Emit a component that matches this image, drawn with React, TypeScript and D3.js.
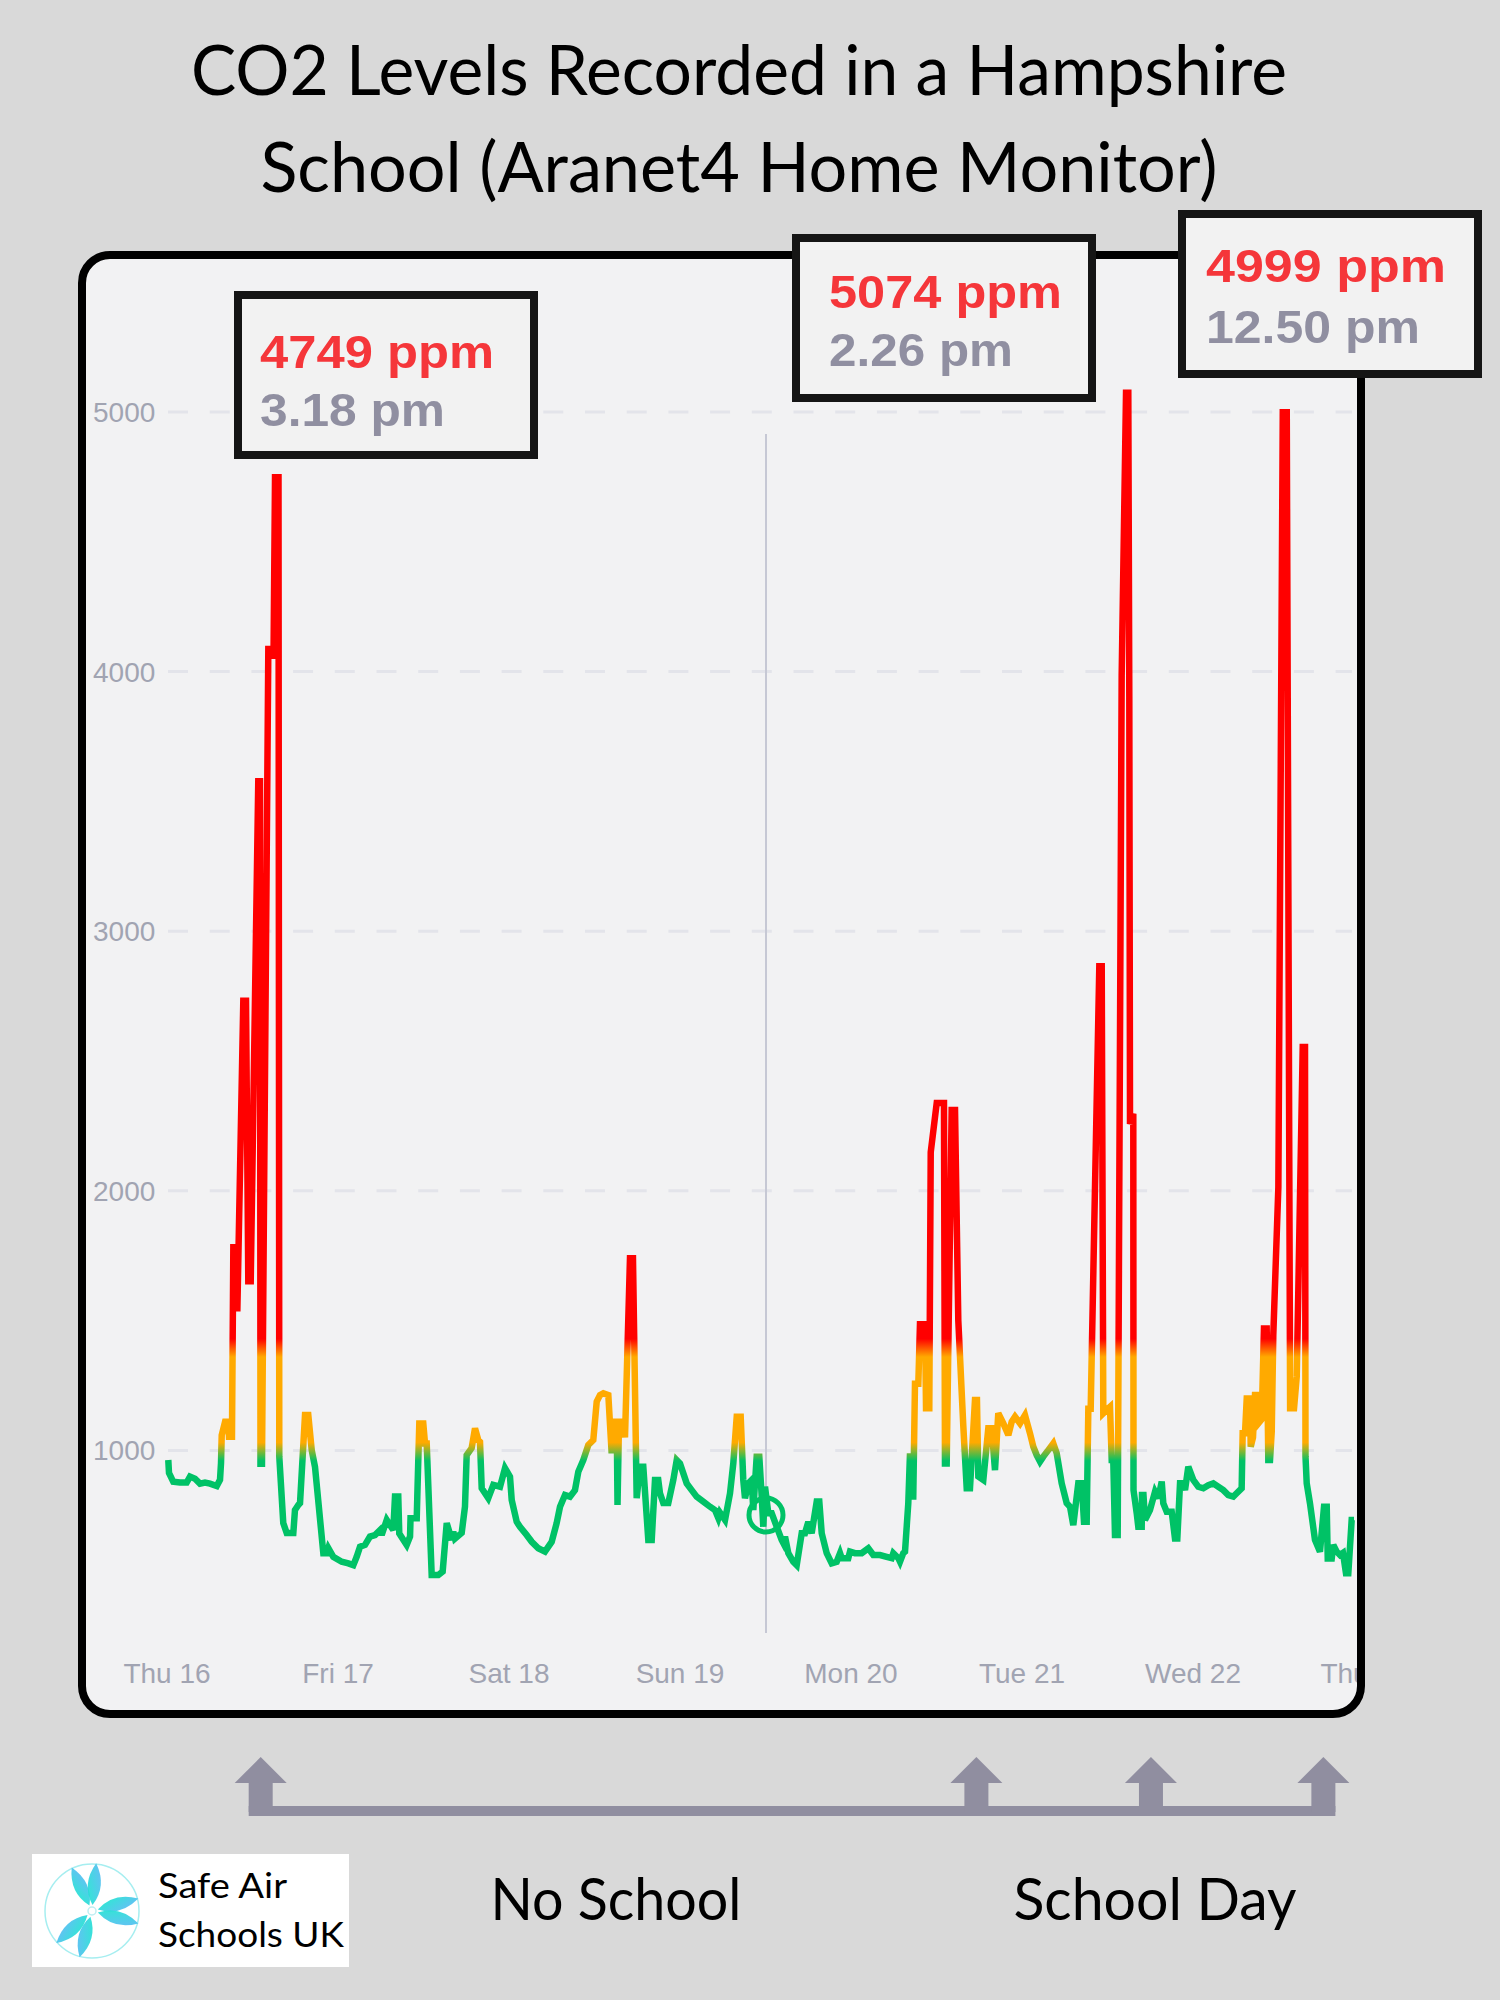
import * as d3 from "d3";

// Thu 16 at midnight, hours counted from here
const START = new Date(2023, 10, 16);
const DAYS = 7;

const HOURS = [
  0.18, 0.28, 0.88, 1.82, 2.76, 3.23, 3.93, 4.63, 5.33, 6.04,
  6.98, 7.44, 7.58, 7.68, 8.15, 8.6, 8.7, 9.12, 9.31, 9.78,
  9.87, 10.71, 11.09, 11.41, 11.75, 12.81, 13.05, 13.12, 13.33, 14.22,
  14.84, 14.95, 15.16, 15.65, 15.76, 16.32, 16.8, 17.73, 17.96, 18.43,
  18.67, 19.37, 19.83, 20.31, 20.77, 21.94, 22.41, 22.64, 23.34, 24.52,
  25.45, 26.15, 26.62, 27.09, 27.79, 28.49, 29.19, 29.89, 30.13, 30.84,
  31.76, 32.0, 32.46, 32.6, 33.64, 34.11, 34.18, 35.05, 35.13, 35.41,
  35.97, 36.21, 36.45, 37.15, 38.08, 38.69, 39.26, 39.96, 40.18, 40.42,
  41.36, 41.82, 42.06, 42.76, 43.23, 43.69, 43.93, 44.17, 45.09, 45.8,
  46.74, 47.44, 48.14, 48.38, 49.08, 49.54, 50.48, 51.19, 52.11, 53.05,
  53.99, 54.69, 55.16, 55.86, 56.56, 57.26, 57.73, 58.43, 59.13, 59.83,
  60.31, 60.77, 61.24, 61.94, 62.41, 62.64, 63.12, 63.23, 63.44, 64.04,
  64.28, 64.98, 65.4, 65.92, 66.39, 66.85, 67.55, 68.03, 68.49, 68.95,
  69.19, 69.66, 70.36, 71.06, 71.54, 72.0, 72.94, 73.64, 74.34, 75.27,
  76.21, 76.91, 77.38, 77.61, 78.32, 79.02, 79.48, 79.96, 80.52, 80.88,
  81.12, 81.59, 82.06, 82.29, 82.76, 83.13, 83.47, 83.69, 83.93, 84.39,
  84.87, 85.57, 86.27, 86.5, 86.74, 87.2, 87.9, 88.38, 89.08, 89.54,
  90.01, 90.48, 91.19, 91.55, 91.89, 92.59, 93.29, 93.99, 94.46, 94.69,
  95.62, 95.86, 96.56, 97.5, 98.43, 99.13, 100.07, 101.01, 101.71, 101.94,
  102.64, 102.88, 103.34, 103.58, 104.04, 104.28, 104.52, 104.74, 104.98, 105.45,
  105.68, 106.39, 106.53, 106.99, 107.19, 108.03, 109.05, 109.19, 109.43, 110.13,
  110.6, 111.06, 111.76, 112.24, 112.7, 113.4, 113.68, 113.87, 114.57, 115.27,
  115.75, 116.21, 116.67, 117.38, 118.08, 118.55, 119.02, 119.72, 120.42, 121.12,
  121.59, 122.06, 122.53, 122.99, 123.69, 124.39, 124.87, 125.57, 126.27, 126.74,
  127.2, 127.9, 128.38, 128.7, 129.08, 129.31, 129.64, 130.85, 131.19, 131.41,
  132.11, 132.35, 132.59, 132.81, 133.05, 133.43, 133.99, 134.6, 134.92, 135.06,
  135.16, 135.62, 135.65, 136.1, 136.32, 136.8, 136.84, 137.05, 137.26, 137.96,
  138.67, 139.13, 139.61, 139.83, 140.31, 141.01, 141.47, 141.8, 142.18, 142.64,
  142.88, 143.34, 144.04, 144.74, 145.45, 146.15, 146.85, 147.55, 148.25, 148.95,
  149.66, 150.13, 150.83, 150.97, 151.3, 151.54, 152.0, 152.1, 152.42, 152.7,
  152.94, 153.16, 153.64, 153.96, 154.34, 154.57, 154.81, 155.05, 155.27, 155.98,
  156.6, 157.16, 157.63, 158.18, 158.56, 159.4, 159.72, 159.79, 159.96, 160.42,
  161.12, 161.82, 162.39, 162.77, 162.91, 163.47, 163.69, 164.17, 164.63, 165.05,
  165.47, 165.8, 166.27, 166.6,
];

const PPM = [
  963, 913, 879, 876, 876, 899, 891, 872, 876, 872,
  863, 887, 951, 1059, 1110, 1110, 1053, 1053, 1783, 1783,
  1535, 2732, 2732, 1652, 1652, 3578, 3578, 949, 949, 4087,
  4087, 4050, 4749, 4749, 976, 720, 682, 682, 770, 790,
  797, 1136, 1136, 1001, 937, 604, 604, 624, 590, 571,
  565, 558, 590, 629, 636, 668, 674, 693, 674, 732,
  693, 822, 822, 680, 636, 668, 739, 739, 822, 1104,
  1104, 1027, 1027, 520, 520, 533, 720, 655, 687, 660,
  682, 783, 982, 1009, 1085, 1040, 1033, 854, 816, 867,
  860, 932, 899, 809, 725, 706, 674, 648, 623, 610,
  648, 720, 783, 828, 822, 847, 918, 963, 1021, 1040,
  1188, 1213, 1220, 1213, 989, 1110, 1110, 790, 1110, 1110,
  1050, 1740, 1740, 816, 937, 937, 655, 655, 886, 886,
  835, 797, 797, 886, 963, 950, 873, 847, 822, 803,
  783, 770, 739, 760, 732, 835, 950, 1130, 1130, 886,
  816, 873, 886, 770, 976, 976, 822, 706, 860, 758,
  758, 706, 655, 643, 668, 604, 571, 558, 681, 681,
  725, 681, 803, 803, 681, 604, 565, 571, 604, 585,
  585, 610, 604, 604, 623, 597, 597, 590, 585, 604,
  585, 571, 604, 610, 796, 989, 822, 822, 1257, 1257,
  1486, 1486, 1162, 1162, 2149, 2338, 2338, 950, 950, 2311,
  2311, 1500, 1095, 854, 854, 1194, 1194, 899, 886, 1085,
  1085, 924, 1143, 1104, 1059, 1110, 1130, 1104, 1136, 1066,
  1014, 982, 957, 976, 1001, 1027, 989, 873, 797, 783,
  712, 873, 873, 725, 725, 1160, 1160, 2865, 2865, 1143,
  1162, 1168, 963, 963, 674, 674, 3986, 5074, 5074, 3905,
  2257, 2297, 847, 758, 706, 706, 828, 828, 732, 770,
  841, 816, 880, 796, 764, 764, 661, 661, 873, 873,
  847, 937, 886, 860, 854, 866, 873, 860, 847, 828,
  822, 835, 854, 1066, 1066, 1200, 1200, 1014, 1050, 1213,
  1213, 1104, 1120, 1470, 1470, 963, 963, 1072, 1446, 2014,
  4999, 4999, 1162, 1162, 1284, 2554, 2554, 976, 873, 796,
  655, 610, 783, 783, 584, 584, 636, 610, 597, 605,
  527, 527, 732, 732,
];

const Y_TICKS = [1000, 2000, 3000, 4000, 5000];
// green below the first, orange up to the second, red above
const THRESHOLDS = [1000, 1400];

const PEAK_PPM = ["4749 ppm", "5074 ppm", "4999 ppm"];
const PEAK_TIME = ["3.18 pm", "2.26 pm", "12.50 pm"];

// hovered reading on Sun 19
const CURSOR_HOUR = 84.07;
const CURSOR_PPM = 751;

// arrows under the chart, in hours from Thu 16
const ARROW_HOURS = [13.15, 113.6, 138.1, 162.3];

const W = 1500;
const H = 2000;
const GREY = "#a1a4b2";
const ARROW = "#908ea0";
const ROUND = "Lato, 'Noto Sans', sans-serif";
const SANS = "'Liberation Sans', Arial, sans-serif";

const BOXES = [
  { x: 234, y: 291, tx: 26, b1: 77, b2: 135, l1: 234, l2: 185 },
  { x: 792, y: 234, tx: 37, b1: 74, b2: 132, l1: 233, l2: 184 },
  { x: 1178, y: 210, tx: 28, b1: 72, b2: 133, l1: 240, l2: 214 },
];

const LEAVES = [-25, 5, 75, 105, 195, 228];

const hourToDate = (h: number) => new Date(START.getTime() + h * 3600e3);

export default function App() {
  const x = d3
    .scaleTime()
    .domain([START, d3.timeDay.offset(START, DAYS)])
    .range([167, 167 + DAYS * 171]);
  const y = d3.scaleLinear().domain([0, 5000]).range([1710, 412]);

  const points = HOURS.slice(0, Math.min(HOURS.length, PPM.length)).map((h, i) => ({
    date: hourToDate(h),
    ppm: PPM[i],
  }));

  const line = d3
    .line<{ date: Date; ppm: number }>()
    .x((d) => x(d.date))
    .y((d) => y(d.ppm));

  const dayTicks = d3.timeDay.range(START, d3.timeDay.offset(START, DAYS + 1));
  const fmt = d3.timeFormat("%a %d");

  // gradient runs bottom (0 ppm) to top (5000 ppm)
  const off = (v: number) => `${(v / 5000) * 100}%`;
  const [t1, t2] = THRESHOLDS;

  return (
    <svg
      width={W}
      height={H}
      viewBox={`0 0 ${W} ${H}`}
      style={{ position: "absolute", left: 0, top: 0, display: "block" }}
    >
      <defs>
        <clipPath id="inner">
          <rect x={86} y={259} width={1271} height={1451} rx={24} />
        </clipPath>
        <linearGradient
          id="co2"
          gradientUnits="userSpaceOnUse"
          x1={0}
          x2={0}
          y1={y(0)}
          y2={y(5000)}
        >
          <stop offset={off(t1 - 40)} stopColor="#00c266" />
          <stop offset={off(t1 + 30)} stopColor="#ffaa00" />
          <stop offset={off(t2 - 40)} stopColor="#ffaa00" />
          <stop offset={off(t2 + 30)} stopColor="#ff0000" />
        </linearGradient>
        <linearGradient id="leaf" x1="0" x2="1" y1="1" y2="0">
          <stop offset="0%" stopColor="#14e8cc" />
          <stop offset="100%" stopColor="#5ab4f8" />
        </linearGradient>
      </defs>

      <rect width={W} height={H} fill="#d9d9d9" />

      {/* title */}
      <g fontFamily={ROUND} fontSize={70} fill="#000" textAnchor="middle">
        <text x={739} y={95} textLength={1096} lengthAdjust="spacingAndGlyphs">
          CO2 Levels Recorded in a Hampshire
        </text>
        <text x={739} y={192} textLength={957} lengthAdjust="spacingAndGlyphs">
          School (Aranet4 Home Monitor)
        </text>
      </g>

      {/* chart panel */}
      <rect x={82} y={255} width={1279} height={1459} rx={28} fill="#f2f2f3" />

      <g clipPath="url(#inner)">
        {Y_TICKS.map((t) => (
          <line
            key={t}
            x1={168}
            x2={1352}
            y1={y(t)}
            y2={y(t)}
            stroke="#e3e4ea"
            strokeWidth={3}
            strokeDasharray="20 21.7"
          />
        ))}
        {Y_TICKS.map((t) => (
          <text key={t} x={93} y={y(t) + 10} fontFamily={SANS} fontSize={28} fill={GREY}>
            {t}
          </text>
        ))}
        {dayTicks.map((d) => (
          <text
            key={+d}
            x={x(d)}
            y={1683}
            textAnchor="middle"
            fontFamily={SANS}
            fontSize={28}
            fill={GREY}
          >
            {fmt(d)}
          </text>
        ))}

        <line
          x1={x(hourToDate(CURSOR_HOUR))}
          x2={x(hourToDate(CURSOR_HOUR))}
          y1={434}
          y2={1633}
          stroke="#c6c8d4"
          strokeWidth={2}
        />

        <path
          d={line(points) ?? ""}
          fill="none"
          stroke="url(#co2)"
          strokeWidth={6.5}
          strokeLinejoin="miter"
          strokeMiterlimit={3}
        />

        <circle
          cx={x(hourToDate(CURSOR_HOUR))}
          cy={y(CURSOR_PPM)}
          r={17}
          fill="none"
          stroke="#00c266"
          strokeWidth={5}
        />
      </g>

      <rect
        x={82}
        y={255}
        width={1279}
        height={1459}
        rx={28}
        fill="none"
        stroke="#000"
        strokeWidth={8}
      />

      {/* peak call-outs */}
      {BOXES.map((b, i) => (
        <g key={i} transform={`translate(${b.x},${b.y})`}>
          <rect
            x={4}
            y={4}
            width={296}
            height={160}
            fill="#f2f2f2"
            stroke="#151515"
            strokeWidth={8}
          />
          <text
            x={b.tx}
            y={b.b1}
            fontFamily={SANS}
            fontWeight={700}
            fontSize={47}
            fill="#f5363a"
            textLength={b.l1}
            lengthAdjust="spacingAndGlyphs"
          >
            {PEAK_PPM[i]}
          </text>
          <text
            x={b.tx}
            y={b.b2}
            fontFamily={SANS}
            fontWeight={700}
            fontSize={47}
            fill="#908fa1"
            textLength={b.l2}
            lengthAdjust="spacingAndGlyphs"
          >
            {PEAK_TIME[i]}
          </text>
        </g>
      ))}

      {/* arrows */}
      <g fill={ARROW}>
        <rect
          x={x(hourToDate(ARROW_HOURS[0])) - 12}
          y={1806}
          width={x(hourToDate(ARROW_HOURS[ARROW_HOURS.length - 1])) - x(hourToDate(ARROW_HOURS[0])) + 24}
          height={10}
        />
        {ARROW_HOURS.map((h) => {
          const cx = x(hourToDate(h));
          return (
            <g key={h}>
              <rect x={cx - 12} y={1782} width={24} height={30} />
              <path d={`M${cx},1757 L${cx + 26},1783 L${cx - 26},1783 Z`} />
            </g>
          );
        })}
      </g>

      <g fontFamily={ROUND} fontSize={58} fill="#000" textAnchor="middle">
        <text x={616} y={1920} textLength={251} lengthAdjust="spacingAndGlyphs">
          No School
        </text>
        <text x={1155} y={1920} textLength={283} lengthAdjust="spacingAndGlyphs">
          School Day
        </text>
      </g>

      {/* logo */}
      <rect x={32} y={1854} width={317} height={113} fill="#ffffff" />
      <g transform="translate(92,1911)">
        <circle r={47} fill="none" stroke="#a6eef0" strokeWidth={1.5} />
        {LEAVES.map((a) => (
          <path
            key={a}
            transform={`rotate(${a}) translate(0,-6)`}
            d="M0,0 Q13,-20 0,-42 Q-13,-20 0,0 Z"
            fill="url(#leaf)"
            opacity={0.9}
          />
        ))}
        <circle r={4} fill="none" stroke="#bfeef2" strokeWidth={1.5} />
      </g>
      <g fontFamily={ROUND} fontSize={35} fill="#000">
        <text x={158} y={1898} textLength={129} lengthAdjust="spacingAndGlyphs">
          Safe Air
        </text>
        <text x={158} y={1947} textLength={186} lengthAdjust="spacingAndGlyphs">
          Schools UK
        </text>
      </g>
    </svg>
  );
}
